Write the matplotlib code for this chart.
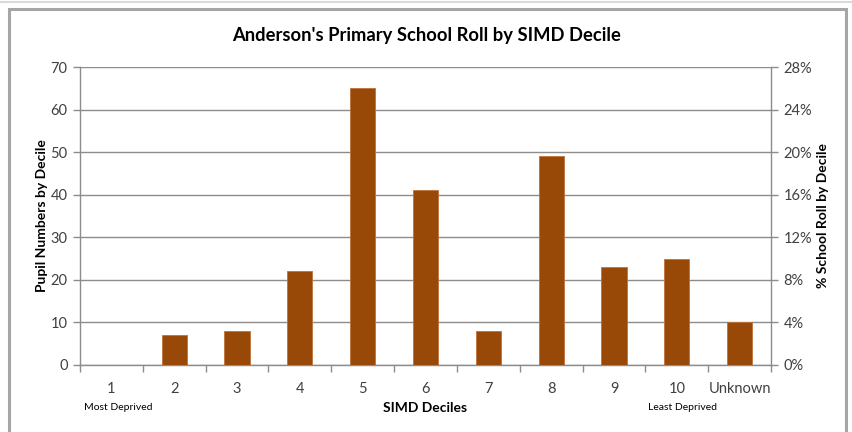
import numpy as np
import matplotlib.pyplot as plt
from matplotlib.patches import Rectangle

plt.rcParams['font.family'] = ['Lato', 'DejaVu Sans']

deciles = ['1', '2', '3', '4', '5', '6', '7', '8', '9', '10', 'Unknown']
pupils = [0, 7, 8, 22, 65, 41, 8, 49, 23, 25, 10]
left_ticks = [0, 10, 20, 30, 40, 50, 60, 70]
right_ticks = ['0%', '4%', '8%', '12%', '16%', '20%', '24%', '28%']

bar_color = '#984807'
grid_color = '#8c8c8c'
text_color = '#404040'

fig = plt.figure(figsize=(8.52, 4.32), dpi=100)

# outer chart frame like the Excel chart box
fig.patches.append(Rectangle((9 / 852, -0.1), (846 - 9) / 852, 1.1 - 9 / 432,
                             transform=fig.transFigure, fill=False,
                             edgecolor='#a6a6a6', linewidth=2.2))
fig.add_artist(plt.Line2D([0, 1], [1 - 1.5 / 432] * 2, color='#d9d9d9', lw=1.5))

ax = fig.add_axes([80 / 852, 1 - 365 / 432, (771 - 80) / 852, (365 - 67) / 432])
x = np.arange(len(deciles))
ax.bar(x, pupils, width=0.4, color=bar_color, edgecolor='#c0723a', linewidth=0.6, zorder=3)

ax.set_xlim(-0.5, len(deciles) - 0.5)
ax.set_ylim(0, 70)
ax.set_yticks(left_ticks)
ax.yaxis.grid(True, color=grid_color, linewidth=1)
ax.set_axisbelow(True)

# tick marks at category boundaries, labels at centres
ax.set_xticks(np.arange(-0.5, len(deciles)), minor=False)
ax.set_xticklabels([])
ax.set_xticks(x, minor=True)
ax.set_xticklabels(deciles, minor=True)
ax.tick_params(axis='x', which='major', length=5, color=grid_color, width=1)
ax.tick_params(axis='x', which='minor', length=0, pad=12, labelsize=10.5, labelcolor=text_color)
ax.tick_params(axis='y', length=5, color=grid_color, width=1, labelsize=10.5,
               labelcolor=text_color, pad=4)

for s in ['top', 'right']:
    ax.spines[s].set_visible(False)
for s in ['left', 'bottom']:
    ax.spines[s].set_color(grid_color)
    ax.spines[s].set_linewidth(1)

ax2 = ax.twinx()
ax2.set_ylim(0, 70)
ax2.set_yticks(left_ticks)
ax2.set_yticklabels(right_ticks)
ax2.tick_params(axis='y', length=5, color=grid_color, width=1, labelsize=10.5,
                labelcolor=text_color, pad=4)
for s in ['top', 'left', 'bottom']:
    ax2.spines[s].set_visible(False)
ax2.spines['right'].set_color(grid_color)
ax2.spines['right'].set_linewidth(1)

fig.text(427 / 852, 1 - 35 / 432, "Anderson's Primary School Roll by SIMD Decile",
         ha='center', va='center', fontsize=13.2, fontweight='bold', color='black')
fig.text(42 / 852, 1 - 216 / 432, 'Pupil Numbers by Decile', rotation=90,
         ha='center', va='center', fontsize=10, fontweight='bold', color='black')
fig.text(823 / 852, 1 - 216 / 432, '% School Roll by Decile', rotation=90,
         ha='center', va='center', fontsize=10, fontweight='bold', color='black')
fig.text(425 / 852, 1 - 408 / 432, 'SIMD Deciles', ha='center', va='center',
         fontsize=10, fontweight='bold', color='black')
fig.text(118 / 852, 1 - 408 / 432, 'Most Deprived', ha='center', va='center',
         fontsize=7.5, color='black')
fig.text(682 / 852, 1 - 408 / 432, 'Least Deprived', ha='center', va='center',
         fontsize=7.5, color='black')

fig.savefig('out.png', dpi=100)
